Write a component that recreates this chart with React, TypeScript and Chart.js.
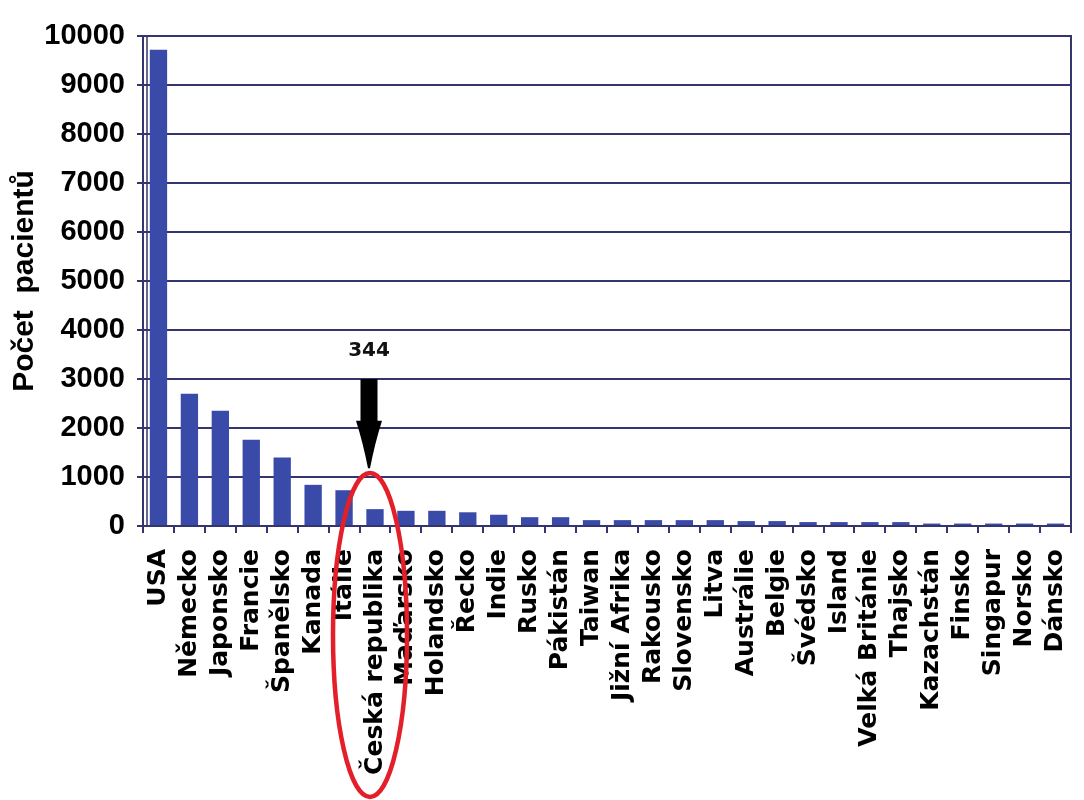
import { useEffect, useRef } from "react"
import { Chart, registerables } from "chart.js"

Chart.register(...registerables)

const countries = [
  "USA", "Německo", "Japonsko", "Francie", "Španělsko", "Kanada", "Itálie",
  "Česká republika", "Maďarsko", "Holandsko", "Řecko", "Indie", "Rusko",
  "Pákistán", "Taiwan", "Jižní Afrika", "Rakousko", "Slovensko", "Litva",
  "Austrálie", "Belgie", "Švédsko", "Island", "Velká Británie", "Thajsko",
  "Kazachstán", "Finsko", "Singapur", "Norsko", "Dánsko",
]

const patients = [
  9720, 2700, 2350, 1760, 1400, 840, 730,
  344, 310, 310, 280, 230, 180,
  180, 120, 120, 120, 120, 120,
  100, 100, 80, 80, 80, 80,
  50, 50, 50, 50, 50,
]

const yTicks = [0, 1000, 2000, 3000, 4000, 5000, 6000, 7000, 8000, 9000, 10000]
const highlightIndex = 7
const highlightLabel = "344"

const navy = "#34346e"

// top/right border of the plot and the doubled left wall line
const framePlugin = {
  id: "frame",
  beforeDatasetsDraw(chart: Chart) {
    const { ctx, chartArea } = chart
    ctx.save()
    ctx.strokeStyle = navy
    ctx.lineWidth = 2
    ctx.beginPath()
    ctx.moveTo(chartArea.left, chartArea.top)
    ctx.lineTo(chartArea.right, chartArea.top)
    ctx.lineTo(chartArea.right, chartArea.bottom)
    ctx.stroke()
    ctx.lineWidth = 1.5
    ctx.beginPath()
    ctx.moveTo(chartArea.left + 4, chartArea.top)
    ctx.lineTo(chartArea.left + 4, chartArea.bottom)
    ctx.stroke()
    ctx.restore()
  },
}

// "344" label, black arrow and red ellipse round the Czech bar
const highlightPlugin = {
  id: "highlight",
  afterDraw(chart: Chart) {
    const { ctx } = chart
    const xs = chart.scales.x
    const ys = chart.scales.y
    const cx = xs.getPixelForValue(highlightIndex) - 6

    ctx.save()
    ctx.fillStyle = "#111"
    ctx.font = "bold 20px 'DejaVu Sans', sans-serif"
    ctx.textAlign = "center"
    ctx.textBaseline = "middle"
    ctx.fillText(highlightLabel, cx, ys.getPixelForValue(3570))

    const shaftTop = ys.getPixelForValue(3000)
    const headTop = ys.getPixelForValue(2150)
    const tip = ys.getPixelForValue(1180)
    ctx.fillStyle = "#000"
    ctx.fillRect(cx - 8.5, shaftTop, 17, headTop - shaftTop + 1)
    ctx.beginPath()
    ctx.moveTo(cx - 13, headTop)
    ctx.lineTo(cx + 13, headTop)
    ctx.quadraticCurveTo(cx + 6, headTop + 22, cx + 1, tip)
    ctx.lineTo(cx - 1, tip)
    ctx.quadraticCurveTo(cx - 6, headTop + 22, cx - 13, headTop)
    ctx.fill()

    const eTop = ys.getPixelForValue(1080)
    const eBottom = chart.height - 3
    ctx.strokeStyle = "#e3202a"
    ctx.lineWidth = 4.5
    ctx.beginPath()
    ctx.ellipse(cx + 1, (eTop + eBottom) / 2, 37, (eBottom - eTop) / 2, 0, 0, Math.PI * 2)
    ctx.stroke()
    ctx.restore()
  },
}

function PatientsChart() {
  const chartRef = useRef<HTMLCanvasElement>(null)
  const chartInstance = useRef<Chart | null>(null)

  useEffect(() => {
    if (!chartRef.current) return
    const ctx = chartRef.current.getContext("2d")
    if (!ctx) return
    if (chartInstance.current) chartInstance.current.destroy()

    chartInstance.current = new Chart(ctx, {
      type: "bar",
      data: {
        labels: countries,
        datasets: [
          {
            data: patients,
            backgroundColor: "#3a4aa8",
            borderWidth: 0,
            categoryPercentage: 1,
            barPercentage: 0.56,
          },
        ],
      },
      options: {
        animation: false,
        responsive: true,
        maintainAspectRatio: false,
        layout: { padding: { top: 36, right: 13, left: 0, bottom: 0 } },
        plugins: {
          legend: { display: false },
          tooltip: { enabled: false },
        },
        scales: {
          x: {
            grid: {
              drawOnChartArea: false,
              drawTicks: true,
              tickLength: 7,
              color: navy,
              lineWidth: 2,
            },
            border: { display: true, color: navy, width: 2 },
            ticks: {
              autoSkip: false,
              minRotation: 90,
              maxRotation: 90,
              padding: 16,
              color: "#000",
              font: { family: "'DejaVu Sans', sans-serif", weight: "bold", size: 25 },
            },
            afterFit(scale: any) {
              scale.height = 274
              scale.paddingLeft = 0
              scale.paddingRight = 0
            },
          },
          y: {
            min: 0,
            max: 10000,
            afterBuildTicks(scale: any) {
              scale.ticks = yTicks.map((v) => ({ value: v }))
            },
            grid: {
              color: navy,
              lineWidth: 2,
              tickLength: 6,
            },
            border: { display: true, color: navy, width: 2 },
            ticks: {
              padding: 12,
              color: "#000",
              callback: (v: any) => String(v),
              font: { family: "'Liberation Sans', Arial, sans-serif", weight: "bold", size: 29 },
            },
            title: {
              display: true,
              text: "Počet  pacientů",
              color: "#000",
              padding: { top: 7, bottom: 0 },
              font: { family: "'Liberation Sans', Arial, sans-serif", weight: "bold", size: 30 },
            },
            afterFit(scale: any) {
              scale.width = 143
              scale.paddingTop = 0
              scale.paddingBottom = 0
            },
          },
        },
      },
      plugins: [framePlugin, highlightPlugin],
    })

    return () => {
      if (chartInstance.current) {
        chartInstance.current.destroy()
        chartInstance.current = null
      }
    }
  }, [])

  return (
    <div style={{ width: 1084, height: 800, position: "relative", background: "#fff" }}>
      <canvas ref={chartRef}></canvas>
    </div>
  )
}

export default function App() {
  useEffect(() => {
    document.body.style.margin = "0"
  }, [])
  return <PatientsChart />
}
